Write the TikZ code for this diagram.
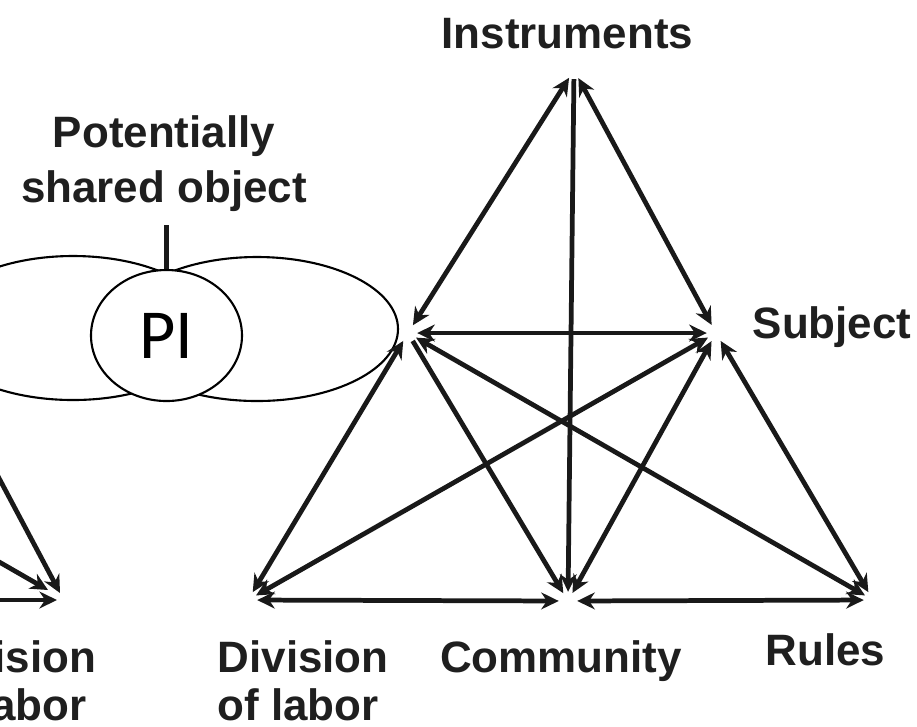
\documentclass[tikz,border=0pt]{standalone}
\usepackage{fontspec}
\setmainfont{Liberation Sans}
\newfontfamily\pifont{Carlito}
\usetikzlibrary{positioning, arrows.meta, shapes.geometric}

\begin{document}
\begin{tikzpicture}[
    vtx/.style={circle, minimum size=0.17cm, inner sep=0pt},
    lbl/.style={font=\fontsize{12.5}{13.6}\selectfont\bfseries, text=black!88, inner sep=0pt},
    link/.style={line width=1.35pt, draw=black!90, {Stealth[length=5pt,width=4.8pt]}-{Stealth[length=5pt,width=4.8pt]}},
    oneway/.style={line width=1.35pt, draw=black!90, -{Stealth[length=5pt,width=4.8pt]}},
    blob/.style={ellipse, draw, line width=0.6pt, inner sep=0pt},
]

\useasboundingbox (0,0) rectangle (9.17,-7.26);
\clip (0,0) rectangle (9.17,-7.26);

% objects
\node[blob, minimum width=2.82cm, minimum height=1.44cm] (objL) at (0.73,-3.28) {};
\node[blob, minimum width=2.82cm, minimum height=1.44cm] (objR) at (2.57,-3.29) {};
\node[blob, fill=white, minimum width=1.51cm, minimum height=1.31cm,
      font=\pifont\fontsize{20}{24}\selectfont] (pi) at (1.665,-3.355) {PI};

\node[lbl, anchor=base, align=center, font=\fontsize{12.5}{15.4}\selectfont\bfseries]
    (shared) at (1.64,-2.02) {Potentially\\shared object};
\draw[line width=1.3pt, draw=black!90] (pi.north) -- (pi.north |- 0,-2.25);

% activity system (right)
\node[vtx] (I) at (5.74,-0.70) {};
\node[vtx] (O) at (4.08,-3.33) {};
\node[vtx] (S) at (7.16,-3.33) {};
\node[vtx] (D) at (2.48,-6.00) {};
\node[vtx] (C) at (5.68,-6.01) {};
\node[vtx] (R) at (8.73,-6.00) {};

\foreach \a/\b in {I/O, I/S, O/S, O/D, O/R, S/D, S/C, S/R, D/C, C/R}
    \draw[link] (\a) -- (\b);
\foreach \a/\b in {I/C, O/C}
    \draw[oneway] (\a) -- (\b);

\node[lbl, anchor=base] (instr) at (5.675,-0.48) {Instruments};
\node[lbl, anchor=base west] (subj) at (7.52,-3.38) {Subject};
\node[lbl, anchor=base west, align=left] (div) at (2.17,-7.20) {Division\\of labor};
\node[lbl, anchor=base] (comm) at (5.61,-6.72) {Community};
\node[lbl, anchor=base] (rules) at (8.255,-6.65) {Rules};

% activity system (left, cut off)
\coordinate (dl1) at (-0.60,-3.67);
\coordinate (dl2) at (-1.00,-5.05);
\coordinate (dl3) at (-1.00,-6.00);
\coordinate (tl1) at (0.60,-5.93);
\coordinate (tl2) at (0.48,-5.90);
\coordinate (tl3) at (0.57,-6.00);
\draw[oneway] (dl1) -- (tl1);
\draw[oneway] (dl2) -- (tl2);
\draw[oneway] (dl3) -- (tl3);
\node[lbl, anchor=base east, align=left] (divL) at (0.97,-7.20) {Division\\of labor};

\end{tikzpicture}
\end{document}
